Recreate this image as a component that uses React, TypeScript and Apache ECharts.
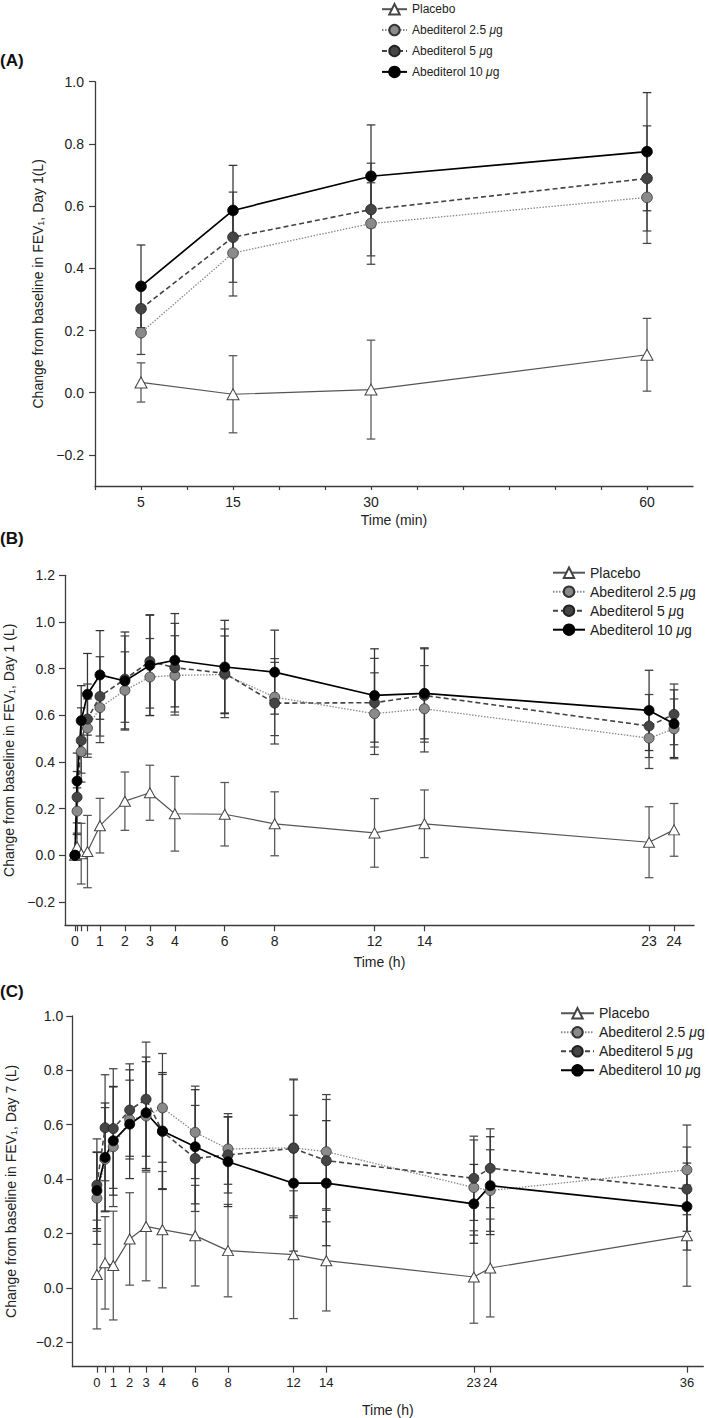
import React, { useEffect, useRef } from "react";
import * as echarts from "echarts";

const FONT = "'Liberation Sans', Arial, Helvetica, sans-serif";

const seriesNames = ["Placebo", "Abediterol 2.5 μg", "Abediterol 5 μg", "Abediterol 10 μg"];

// ---------- Panel A: Day 1, minutes ----------
const timesA = [5, 15, 30, 60];
const placeboA = [0.033, -0.005, 0.01, 0.122];
const abed25A = [0.193, 0.449, 0.544, 0.628];
const abed5A = [0.27, 0.5, 0.589, 0.689];
const abed10A = [0.342, 0.586, 0.696, 0.775];
const errPlaceboA = [0.063, 0.124, 0.159, 0.117];
const err25A = [0.07, 0.138, 0.131, 0.148];
const err5A = [0.072, 0.145, 0.149, 0.169];
const err10A = [0.133, 0.145, 0.165, 0.19];
const xTicksA = [0, 5, 10, 15, 20, 25, 30, 35, 40, 45, 50, 55, 60];
const xLabelsA = [5, 15, 30, 60];
const yTicksA = [-0.2, 0, 0.2, 0.4, 0.6, 0.8, 1.0];

// ---------- Panel B: Day 1, hours ----------
const timesB = [0, 0.083, 0.25, 0.5, 1, 2, 3, 4, 6, 8, 12, 14, 23, 24];
const placeboB = [0, 0.037, 0.007, 0.016, 0.127, 0.232, 0.268, 0.178, 0.176, 0.135, 0.096, 0.135, 0.056, 0.109];
const abed25B = [0, 0.189, 0.444, 0.545, 0.633, 0.707, 0.764, 0.771, 0.775, 0.678, 0.607, 0.628, 0.502, 0.542];
const abed5B = [0, 0.249, 0.492, 0.584, 0.681, 0.755, 0.831, 0.804, 0.78, 0.652, 0.654, 0.685, 0.554, 0.604];
const abed10B = [0, 0.318, 0.577, 0.69, 0.773, 0.747, 0.814, 0.836, 0.807, 0.785, 0.685, 0.694, 0.621, 0.564];
const errPlaceboB = [0, 0.058, 0.13, 0.155, 0.117, 0.125, 0.118, 0.16, 0.136, 0.137, 0.147, 0.145, 0.152, 0.113];
const err25B = [0, 0.1, 0.13, 0.125, 0.15, 0.165, 0.165, 0.17, 0.165, 0.165, 0.175, 0.185, 0.13, 0.128];
const err5B = [0, 0.11, 0.14, 0.15, 0.17, 0.185, 0.2, 0.19, 0.19, 0.175, 0.19, 0.2, 0.135, 0.13];
const err10B = [0, 0.12, 0.15, 0.175, 0.19, 0.21, 0.215, 0.2, 0.2, 0.18, 0.2, 0.195, 0.172, 0.145];
const xTicksB = [0, 0.083, 0.25, 0.5, 1, 2, 3, 4, 6, 8, 12, 14, 23, 24];
const xLabelsB = [0, 1, 2, 3, 4, 6, 8, 12, 14, 23, 24];
const yTicksB = [-0.2, 0, 0.2, 0.4, 0.6, 0.8, 1.0, 1.2];

// ---------- Panel C: Day 7, hours ----------
const timesC = [0, 0.5, 1, 2, 3, 4, 6, 8, 12, 14, 23, 24, 36];
const placeboC = [0.049, 0.092, 0.082, 0.18, 0.226, 0.214, 0.192, 0.137, 0.122, 0.1, 0.04, 0.073, 0.192];
const abed25C = [0.33, 0.473, 0.519, 0.619, 0.632, 0.662, 0.572, 0.511, 0.515, 0.501, 0.369, 0.358, 0.434];
const abed5C = [0.378, 0.589, 0.586, 0.654, 0.694, 0.575, 0.476, 0.489, 0.513, 0.468, 0.403, 0.44, 0.363];
const abed10C = [0.358, 0.48, 0.541, 0.602, 0.644, 0.577, 0.519, 0.464, 0.385, 0.385, 0.309, 0.376, 0.299];
const errPlaceboC = [0.2, 0.17, 0.2, 0.17, 0.2, 0.214, 0.185, 0.17, 0.235, 0.185, 0.17, 0.18, 0.186];
const err25C = [0.17, 0.19, 0.22, 0.145, 0.2, 0.2, 0.17, 0.13, 0.25, 0.21, 0.175, 0.15, 0.165];
const err5C = [0.17, 0.195, 0.22, 0.17, 0.21, 0.21, 0.195, 0.14, 0.255, 0.225, 0.155, 0.145, 0.155];
const err10C = [0.14, 0.2, 0.2, 0.2, 0.205, 0.215, 0.21, 0.165, 0.25, 0.23, 0.145, 0.18, 0.16];
const xTicksC = [0, 0.5, 1, 2, 3, 4, 6, 8, 12, 14, 23, 24, 36];
const xLabelsC = [0, 1, 2, 3, 4, 6, 8, 12, 14, 23, 24, 36];
const yTicksC = [-0.2, 0, 0.2, 0.4, 0.6, 0.8, 1.0];

const STY = [
  { symbol: "triangle", fill: "#ffffff", border: "#444444", line: "#555555", width: 1.2, type: "solid" as any, err: "#555555" },
  { symbol: "circle", fill: "#8a8a8a", border: "#333333", line: "#8a8a8a", width: 1.3, type: [1.5, 1.5] as any, err: "#444444" },
  { symbol: "circle", fill: "#454545", border: "#222222", line: "#444444", width: 1.6, type: [5, 3] as any, err: "#444444" },
  { symbol: "circle", fill: "#000000", border: "#000000", line: "#000000", width: 1.7, type: "solid" as any, err: "#333333" },
];

const AXIS_COLOR = "#3c3c3c";
const TEXT_COLOR = "#222222";

const fmtY = (v: number) => {
  const s = Math.abs(v).toFixed(1);
  return v < -1e-9 ? "\u2212" + s : s;
};

function buildSeries(gi: number, times: number[], values: number[][], errors: number[][], circleSize: number, triSize: number[]) {
  const out: any[] = [];
  values.forEach((vals, k) => {
    const st = STY[k];
    const errData = times
      .map((t, i) => [t, vals[i] - errors[k][i], vals[i] + errors[k][i], errors[k][i]])
      .filter((d) => d[3] > 0);
    out.push({
      type: "custom",
      name: `err-${gi}-${k}`,
      xAxisIndex: gi,
      yAxisIndex: gi,
      z: 1,
      silent: true,
      encode: { x: 0, y: [1, 2] },
      data: errData,
      renderItem: (params: any, api: any) => {
        const x = api.value(0);
        const lo = api.coord([x, api.value(1)]);
        const hi = api.coord([x, api.value(2)]);
        const hw = 4.3;
        const style = { stroke: st.err, lineWidth: 1.25, fill: "none" };
        return {
          type: "group",
          children: [
            { type: "line", shape: { x1: lo[0], y1: lo[1], x2: hi[0], y2: hi[1] }, style },
            { type: "line", shape: { x1: lo[0] - hw, y1: lo[1], x2: lo[0] + hw, y2: lo[1] }, style },
            { type: "line", shape: { x1: hi[0] - hw, y1: hi[1], x2: hi[0] + hw, y2: hi[1] }, style },
          ],
        };
      },
    });
  });
  values.forEach((vals, k) => {
    const st = STY[k];
    out.push({
      type: "line",
      name: seriesNames[k],
      xAxisIndex: gi,
      yAxisIndex: gi,
      z: 2,
      showSymbol: true,
      symbol: st.symbol,
      symbolSize: k === 0 ? triSize : circleSize,
      data: times.map((t, i) => [t, vals[i]]),
      itemStyle: { color: st.fill, borderColor: st.border, borderWidth: k === 0 ? 1 : 0.8, opacity: 1 },
      lineStyle: { color: st.line, width: st.width, type: st.type },
      emphasis: { disabled: true },
    });
  });
  return out;
}

function xAxisCfg(gi: number, min: number, max: number, ticks: number[], labels: number[], name: string, gap: number, tickLen: number, labelSize: number) {
  return {
    type: "value",
    gridIndex: gi,
    min,
    max,
    name,
    nameLocation: "middle",
    nameGap: gap,
    nameTextStyle: { fontFamily: FONT, fontSize: 14, color: TEXT_COLOR },
    axisLine: { show: true, onZero: false, lineStyle: { color: AXIS_COLOR, width: 1.3 } },
    axisTick: { show: true, length: tickLen, customValues: ticks, lineStyle: { color: AXIS_COLOR, width: 1.2 } },
    axisLabel: { show: true, customValues: labels, margin: 9, fontFamily: FONT, fontSize: labelSize, color: TEXT_COLOR, hideOverlap: false, formatter: (v: number) => String(v) },
    splitLine: { show: false },
  };
}

function yAxisCfg(gi: number, min: number, max: number, ticks: number[], name: string, gap: number, margin: number) {
  return {
    type: "value",
    gridIndex: gi,
    min,
    max,
    name,
    nameLocation: "middle",
    nameGap: gap,
    nameTextStyle: {
      fontFamily: FONT,
      fontSize: 14,
      color: TEXT_COLOR,
      lineHeight: 14,
      rich: { sub: { fontFamily: FONT, fontSize: 9, color: TEXT_COLOR, lineHeight: 14, verticalAlign: "bottom" } },
    },
    axisLine: { show: true, onZero: false, lineStyle: { color: AXIS_COLOR, width: 1.3 } },
    axisTick: { show: true, length: 6, customValues: ticks, lineStyle: { color: AXIS_COLOR, width: 1.2 } },
    axisLabel: { show: true, customValues: ticks, margin, fontFamily: FONT, fontSize: 14, color: TEXT_COLOR, formatter: fmtY },
    splitLine: { show: false },
  };
}

function legendCfg(left: number, top: number, itemWidth: number, itemGap: number, fontSize: number) {
  return {
    show: true,
    orient: "vertical",
    left,
    top,
    padding: 0,
    itemWidth,
    itemHeight: 13,
    itemGap,
    selectedMode: false,
    data: seriesNames,
    formatter: (n: string) => n.replace("μ", "{mu|μ}"),
    textStyle: {
      fontFamily: FONT,
      fontSize,
      color: TEXT_COLOR,
      rich: { mu: { fontFamily: FONT, fontSize, color: TEXT_COLOR, fontStyle: "italic" } },
    },
  };
}

export default function App() {
  const ref = useRef<HTMLDivElement>(null);
  useEffect(() => {
    if (!ref.current) return;
    const chart = echarts.init(ref.current, undefined, { renderer: "svg" });
    const series = [
      ...buildSeries(0, timesA, [placeboA, abed25A, abed5A, abed10A], [errPlaceboA, err25A, err5A, err10A], 10.7, [12, 11]),
      ...buildSeries(1, timesB, [placeboB, abed25B, abed5B, abed10B], [errPlaceboB, err25B, err5B, err10B], 10, [11, 10]),
      ...buildSeries(2, timesC, [placeboC, abed25C, abed5C, abed10C], [errPlaceboC, err25C, err5C, err10C], 10, [11, 10]),
    ];
    chart.setOption({
      animation: false,
      backgroundColor: "#ffffff",
      textStyle: { fontFamily: FONT },
      grid: [
        { left: 95, top: 81.7, width: 598, height: 404.3, containLabel: false, outerBoundsMode: "none" },
        { left: 65, top: 575.3, width: 629, height: 350, containLabel: false, outerBoundsMode: "none" },
        { left: 72.3, top: 1016, width: 631, height: 350.7, containLabel: false, outerBoundsMode: "none" },
      ],
      xAxis: [
        xAxisCfg(0, 0, 65, xTicksA, xLabelsA, "Time (min)", 27, 4, 14),
        xAxisCfg(1, -0.4, 24.8, xTicksB, xLabelsB, "Time (h)", 30, 6, 14),
        xAxisCfg(2, -1.5, 37, xTicksC, xLabelsC, "Time (h)", 36, 6, 13),
      ],
      yAxis: [
        yAxisCfg(0, -0.3, 1.0, yTicksA, "Change from baseline in FEV{sub|1}, Day 1(L)", 48, 11),
        yAxisCfg(1, -0.3, 1.2, yTicksB, "Change from baseline in FEV{sub|1}, Day 1 (L)", 49, 10),
        yAxisCfg(2, -0.29, 1.0, yTicksC, "Change from baseline in FEV{sub|1}, Day 7 (L)", 54, 9),
      ],
      legend: [
        legendCfg(381, 3, 25, 8.5, 12),
        legendCfg(552, 565.7, 32, 5, 14),
        legendCfg(560, 1006.3, 33, 5, 14),
      ],
      graphic: [
        { type: "text", left: 0, top: 52, style: { text: "(A)", fontFamily: FONT, fontSize: 17, fontWeight: "bold", fill: "#111111" } },
        { type: "text", left: 0, top: 530, style: { text: "(B)", fontFamily: FONT, fontSize: 17, fontWeight: "bold", fill: "#111111" } },
        { type: "text", left: 0, top: 983, style: { text: "(C)", fontFamily: FONT, fontSize: 17, fontWeight: "bold", fill: "#111111" } },
      ],
      series,
    });
    return () => chart.dispose();
  }, []);
  return <div ref={ref} style={{ position: "absolute", left: 0, top: 0, width: 709, height: 1418 }} />;
}
